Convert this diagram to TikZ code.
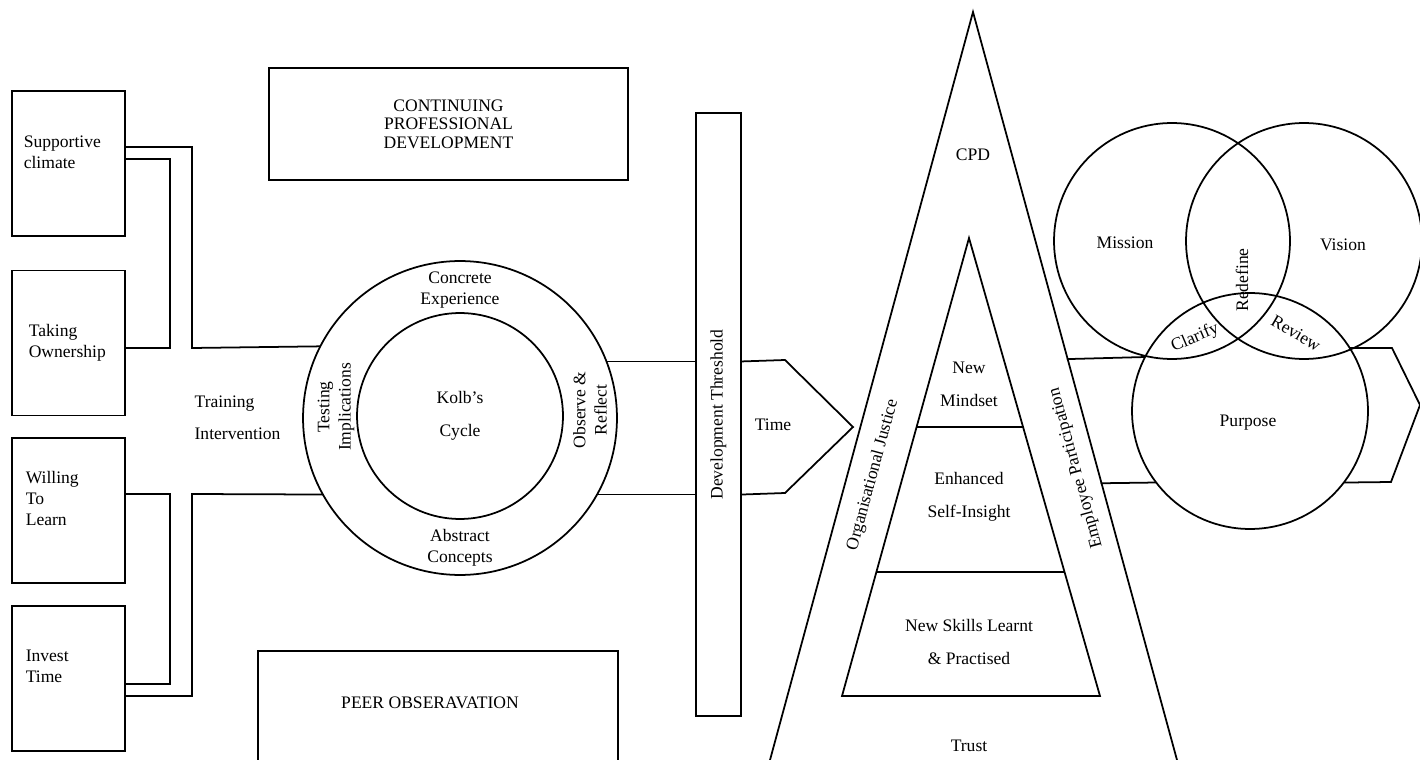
\documentclass[tikz,border=0pt]{standalone}
\usepackage{fontspec}
\setmainfont{Liberation Serif}
\usetikzlibrary{positioning, calc}

\begin{document}
\begin{tikzpicture}[
  x=0.02cm, y=-0.02cm,
  font=\fontsize{10}{12}\selectfont,
  line width=1pt,
  factor/.style={rectangle, draw, minimum width=2.26cm, minimum height=2.9cm},
  panel/.style={rectangle, draw, minimum width=7.18cm, minimum height=2.24cm,
    align=center, font=\fontsize{10}{10.5}\selectfont},
  ring/.style={circle, draw, inner sep=0pt, align=center},
  venn/.style={circle, draw, minimum size=4.72cm, inner sep=0pt},
  txt/.style={inner sep=1pt, align=center},
  ltxt/.style={inner sep=1pt, align=left, anchor=west},
  link/.style={line cap=rect},
]
\useasboundingbox (0,0) rectangle (1420,760);
\clip (0,0) rectangle (1420,760);

% Factors
\node[factor] (sup) at (68.5,163.5) {};
\node[factor] (own) at (68.5,343) {};
\node[factor] (will) at (68.5,510.5) {};
\node[factor] (inv) at (68.5,678.5) {};
\node[ltxt] (supT) at ([xshift=0.2cm, yshift=0.22cm]sup.west) {Supportive\\climate};
\node[ltxt] (ownT) at ([xshift=0.3cm]own.west) {Taking\\Ownership};
\node[ltxt] (willT) at ([xshift=0.24cm, yshift=0.24cm]will.west) {Willing\\To\\Learn};
\node[ltxt] (invT) at ([xshift=0.24cm, yshift=0.24cm]inv.west) {Invest\\Time};

% Kolb's cycle
\node[ring, minimum size=6.28cm] (kolb) at (460,418) {};
\node[ring, minimum size=4.12cm] (kolbin) at (460,416) {Kolb’s\\[7pt]Cycle};
\node[txt] (conc) at ([yshift=2.56cm]kolb.center) {Concrete\\Experience};
\node[txt] (abst) at ([yshift=-2.59cm]kolb.center) {Abstract\\Concepts};
\node[txt, rotate=90] (test) at ([xshift=-2.48cm, yshift=0.22cm]kolb.center) {Testing\\Implications};
\node[txt, rotate=90] (obs) at ([xshift=2.6cm, yshift=0.16cm]kolb.center) {Observe \&\\Reflect};

% Training intervention
\node[ltxt] (train) at (192,418) {Training\\[6pt]Intervention};
\draw[link] ([yshift=0.33cm]sup.east) -| (192,348) -- (kolb.153.5);
\draw[link] ([yshift=0.09cm]sup.east) -| ([xshift=0.88cm, yshift=-0.1cm]own.east) -- ([yshift=-0.1cm]own.east);
\draw[link] ([yshift=0.33cm]will.east) -| ([xshift=0.88cm, yshift=-0.11cm]inv.east) -- ([yshift=-0.11cm]inv.east);
\draw[link] (kolb.209) -- (192,494) |- ([yshift=-0.35cm]inv.east);

% Boxes
\node[panel] (cpd) at (448.5,124) {CONTINUING\\PROFESSIONAL\\DEVELOPMENT};
\draw (258,765) |- (618,651) -- (618,765);
\node[txt] (peer) at (430,703) {PEER OBSERAVATION};

% Threshold and time
\node[rectangle, draw, minimum width=0.9cm, minimum height=12.06cm] (bar) at (718.5,414.5) {};
\node[txt, rotate=90] (barT) at (bar.center) {Development Threshold};
\draw[link] (kolb.21.7) -- (kolb.21.7 -| bar.west);
\draw[link] (kolb.331.5) -- (kolb.331.5 -| bar.west);
\coordinate (tip) at (853,427);
\draw[link] (kolb.21.7 -| bar.east) -- (785,360) -- (tip) -- (785,493) -- (kolb.331.5 -| bar.east);
\node[txt] (time) at (773,425) {Time};

% Pyramid
\coordinate (apex) at (973,12);
\coordinate (bL) at (770,760);
\coordinate (bR) at (1177,760);
\draw (bL) -- (apex) -- (bR);
\coordinate (inA) at (969,238);
\coordinate (inL) at (842,696);
\coordinate (inR) at (1100,696);
\draw (inA) -- (inL) -- (inR) -- cycle;
\draw ($(inA)!0.413!(inL)$) -- ($(inA)!0.413!(inR)$);
\draw ($(inA)!0.729!(inL)$) -- ($(inA)!0.729!(inR)$);
\node[txt] (cpdT) at (973,155) {CPD};
\node[txt] (mind) at (969,384.5) {New\\[7pt]Mindset};
\node[txt] (self) at (969,496.5) {Enhanced\\[7pt]Self-Insight};
\node[txt] (skill) at (969,642) {New Skills Learnt\\[7pt]\& Practised};
\node[txt] (trust) at (969,746) {Trust};
\node[txt, rotate=74.8] (just) at (873,475) {Organisational Justice};
\node[txt, rotate=105.3] (part) at (1076,468) {Employee Participation};

% Venn
\node[venn] (mis) at (1172,241) {};
\node[venn] (vis) at (1304,241) {};
\node[venn] (purp) at (1250,411) {};
\node[txt] (misT) at (1125,243) {Mission};
\node[txt] (visT) at (1343,245) {Vision};
\node[txt] (purpT) at (1248,423) {Purpose};
\node[txt, rotate=90] (redef) at (1242,280) {Redefine};
\node[txt, rotate=23] (clar) at (1195,338) {Clarify};
\node[txt, rotate=-30] (rev) at (1296,333) {Review};
\draw[link] ($(apex)!0.464!(bR)$) -- (purp.153.9);
\draw[link] ($(apex)!0.630!(bR)$) -- (purp.217.6);
\coordinate (tip2) at (1420,405);
\draw[link] (purp.32.3) -- (1392,348) -- (tip2) -- (1391,482) -- (purp.323);

\end{tikzpicture}
\end{document}
